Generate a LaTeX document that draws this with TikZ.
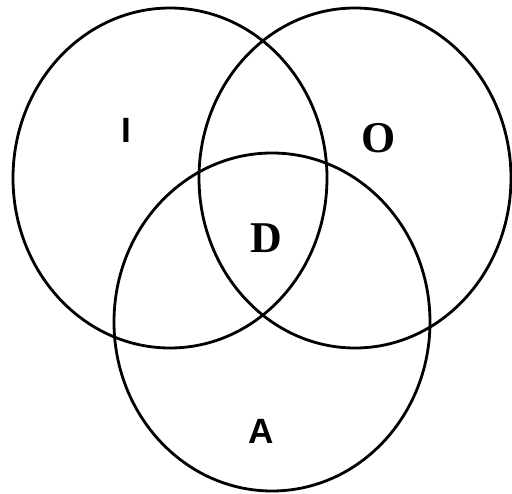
\documentclass[tikz,border=0pt]{standalone}
\usepackage{fontspec}
\setmainfont{Liberation Serif}
\setsansfont{Liberation Sans}
\usepackage{tikz}
\usetikzlibrary{positioning}

\begin{document}
\begin{tikzpicture}[
  x=0.02cm, y=-0.02cm,
  setring/.style={draw=black, line width=1.6pt},
  serlabel/.style={font=\fontsize{25}{28}\selectfont\bfseries},
  sanlabel/.style={font=\fontsize{20}{24}\selectfont\sffamily\bfseries},
]
\useasboundingbox (0,0) rectangle (512,494);

% Set centres
\coordinate (ci) at (170,178);
\coordinate (co) at (355,178);
\coordinate (ca) at (272,322);

% Rings
\draw[setring] (ci) ellipse [x radius=157, y radius=170];
\draw[setring] (co) ellipse [x radius=156, y radius=170];
\draw[setring] (ca) ellipse [x radius=158, y radius=169];

% Labels
\node[sanlabel] (li) at (126,130) {I};
\node[serlabel] (lo) at (379,138) {O};
\node[serlabel] (ld) at (266,238) {D};
\node[sanlabel] (la) at (261,431) {A};
\end{tikzpicture}
\end{document}
